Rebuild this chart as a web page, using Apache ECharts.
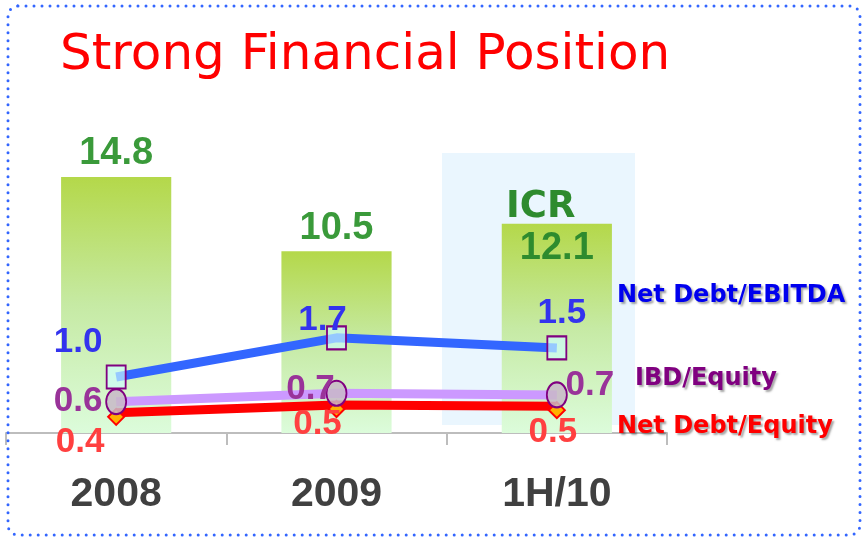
<!DOCTYPE html>
<html>
<head>
<meta charset="utf-8">
<script src="https://cdn.jsdelivr.net/npm/echarts@6/dist/echarts.min.js"></script>
<style>
  html, body { margin: 0; padding: 0; background: #ffffff; }
  #chart { width: 864px; height: 540px; }
</style>
</head>
<body>
<div id="chart"></div>
<script>
// Chart data
const categories = ['2008', '2009', '1H/10'];
const icr = [14.8, 10.5, 12.1];
const netDebtEbitda = [1.0, 1.7, 1.52];
const ibdEquity = [0.56, 0.71, 0.68];
const netDebtEquity = [0.36, 0.50, 0.48];

// Label nudges (px) so the numbers sit where they do on the slide
const ebitdaShift = [[-38, -35], [-14, -17], [5, -35]];
const ibdShift = [[-38, 0], [-26, -4], [33, -10]];
const ndeShift = [[-36, 25], [-19, 15], [-4, 22]];

const numFont = "'Liberation Sans', Arial, sans-serif";
const wide = "'DejaVu Sans', Verdana, sans-serif";

const chart = echarts.init(document.getElementById('chart'), null, { renderer: 'canvas' });

function lineData(values, shifts) {
    return values.map((v, i) => ({
        value: v,
        label: { offset: shifts[i] }
    }));
}

const shadow = {
    textShadowColor: 'rgba(0, 0, 0, 0.35)',
    textShadowBlur: 2,
    textShadowOffsetX: 2,
    textShadowOffsetY: 2
};

const options = {
    backgroundColor: '#ffffff',
    animation: false,
    title: [
        {
            text: 'Strong Financial Position',
            left: 60, top: 31, padding: 0,
            textStyle: { color: '#ff0000', fontSize: 50, fontWeight: 'normal', fontFamily: wide }
        },
        {
            text: 'ICR',
            left: 506, top: 189, padding: 0,
            textStyle: { color: '#2e8b2e', fontSize: 37, fontWeight: 'bold', fontFamily: wide }
        },
        {
            text: 'Net Debt/EBITDA',
            left: 617, top: 284, padding: 0,
            textStyle: Object.assign({ color: '#0000ee', fontSize: 24, fontWeight: 'bold', fontFamily: wide }, shadow)
        },
        {
            text: 'IBD/Equity',
            left: 635, top: 367, padding: 0,
            textStyle: Object.assign({ color: '#800080', fontSize: 24, fontWeight: 'bold', fontFamily: wide }, shadow)
        },
        {
            text: 'Net Debt/Equity',
            left: 617, top: 415, padding: 0,
            textStyle: Object.assign({ color: '#ff0000', fontSize: 24, fontWeight: 'bold', fontFamily: wide }, shadow)
        }
    ],
    graphic: {
        elements: [
            {
                // dotted slide frame
                type: 'rect',
                z: 100,
                shape: { x: 8, y: 6, width: 852, height: 529, r: 10 },
                style: { fill: null, stroke: '#3366ff', lineWidth: 3, lineDash: [0, 8], lineCap: 'round' }
            },
            {
                // highlight behind the latest period
                type: 'rect',
                z: -1,
                shape: { x: 442, y: 153, width: 193, height: 272 },
                style: { fill: '#eaf6fe' }
            }
        ]
    },
    legend: { show: false },
    grid: { left: 6, right: 197, top: 87, bottom: 107, containLabel: false },
    xAxis: {
        type: 'category',
        data: categories,
        axisLine: { lineStyle: { color: '#bdbdbd', width: 2 } },
        axisTick: { show: true, length: 12, lineStyle: { color: '#bdbdbd', width: 2 } },
        axisLabel: {
            color: '#404040',
            fontSize: 41,
            fontWeight: 'bold',
            fontFamily: numFont,
            margin: 41
        }
    },
    yAxis: [
        { type: 'value', min: 0, max: 20, show: false, splitLine: { show: false } },
        { type: 'value', min: 0, max: 6.18, show: false, splitLine: { show: false } }
    ],
    series: [
        {
            name: 'ICR',
            type: 'bar',
            yAxisIndex: 0,
            barWidth: '50%',
            itemStyle: {
                color: new echarts.graphic.LinearGradient(0, 0, 0, 1, [
                    { offset: 0, color: '#b4d84a' },
                    { offset: 0.5, color: '#c6eaa4' },
                    { offset: 1, color: '#dcfcdb' }
                ])
            },
            label: {
                show: true,
                position: 'top',
                distance: 4,
                color: '#3a9a3a',
                fontSize: 38,
                fontWeight: 'bold',
                fontFamily: numFont,
                formatter: p => p.value.toFixed(1)
            },
            data: icr.map((v, i) => i === 2
                ? { value: v, label: { position: 'insideTop', distance: 6, color: '#2e8b2e' } }
                : v)
        },
        {
            name: 'Net Debt/Equity',
            type: 'line',
            yAxisIndex: 1,
            z: 3,
            symbol: 'diamond',
            symbolSize: [16, 16],
            symbolOffset: [0, 4],
            lineStyle: { color: '#ff0000', width: 9 },
            itemStyle: { color: '#ffb000', borderColor: '#ff0000', borderWidth: 2 },
            label: {
                show: true,
                position: 'inside',
                color: '#ff4040',
                fontSize: 35,
                fontWeight: 'bold',
                fontFamily: numFont,
                formatter: p => p.value.toFixed(1)
            },
            data: lineData(netDebtEquity, ndeShift)
        },
        {
            name: 'IBD/Equity',
            type: 'line',
            yAxisIndex: 1,
            z: 4,
            symbol: 'path://M10,0A10,10,0,1,1,10,20A10,10,0,1,1,10,0Z',
            symbolSize: [20, 25],
            lineStyle: { color: '#cc99ff', width: 9 },
            itemStyle: { color: 'rgba(200, 184, 200, 0.85)', borderColor: '#800080', borderWidth: 2 },
            label: {
                show: true,
                position: 'inside',
                color: '#993399',
                fontSize: 35,
                fontWeight: 'bold',
                fontFamily: numFont,
                formatter: p => p.value.toFixed(1)
            },
            data: lineData(ibdEquity, ibdShift)
        },
        {
            name: 'Net Debt/EBITDA',
            type: 'line',
            yAxisIndex: 1,
            z: 5,
            symbol: 'rect',
            symbolSize: [19, 23],
            lineStyle: { color: '#3366ff', width: 9 },
            itemStyle: { color: 'rgba(204, 255, 255, 0.65)', borderColor: '#800080', borderWidth: 2 },
            label: {
                show: true,
                position: 'inside',
                color: '#3333ee',
                fontSize: 35,
                fontWeight: 'bold',
                fontFamily: numFont,
                formatter: p => p.value.toFixed(1)
            },
            data: lineData(netDebtEbitda, ebitdaShift)
        }
    ]
};

chart.setOption(options);
</script>
</body>
</html>
